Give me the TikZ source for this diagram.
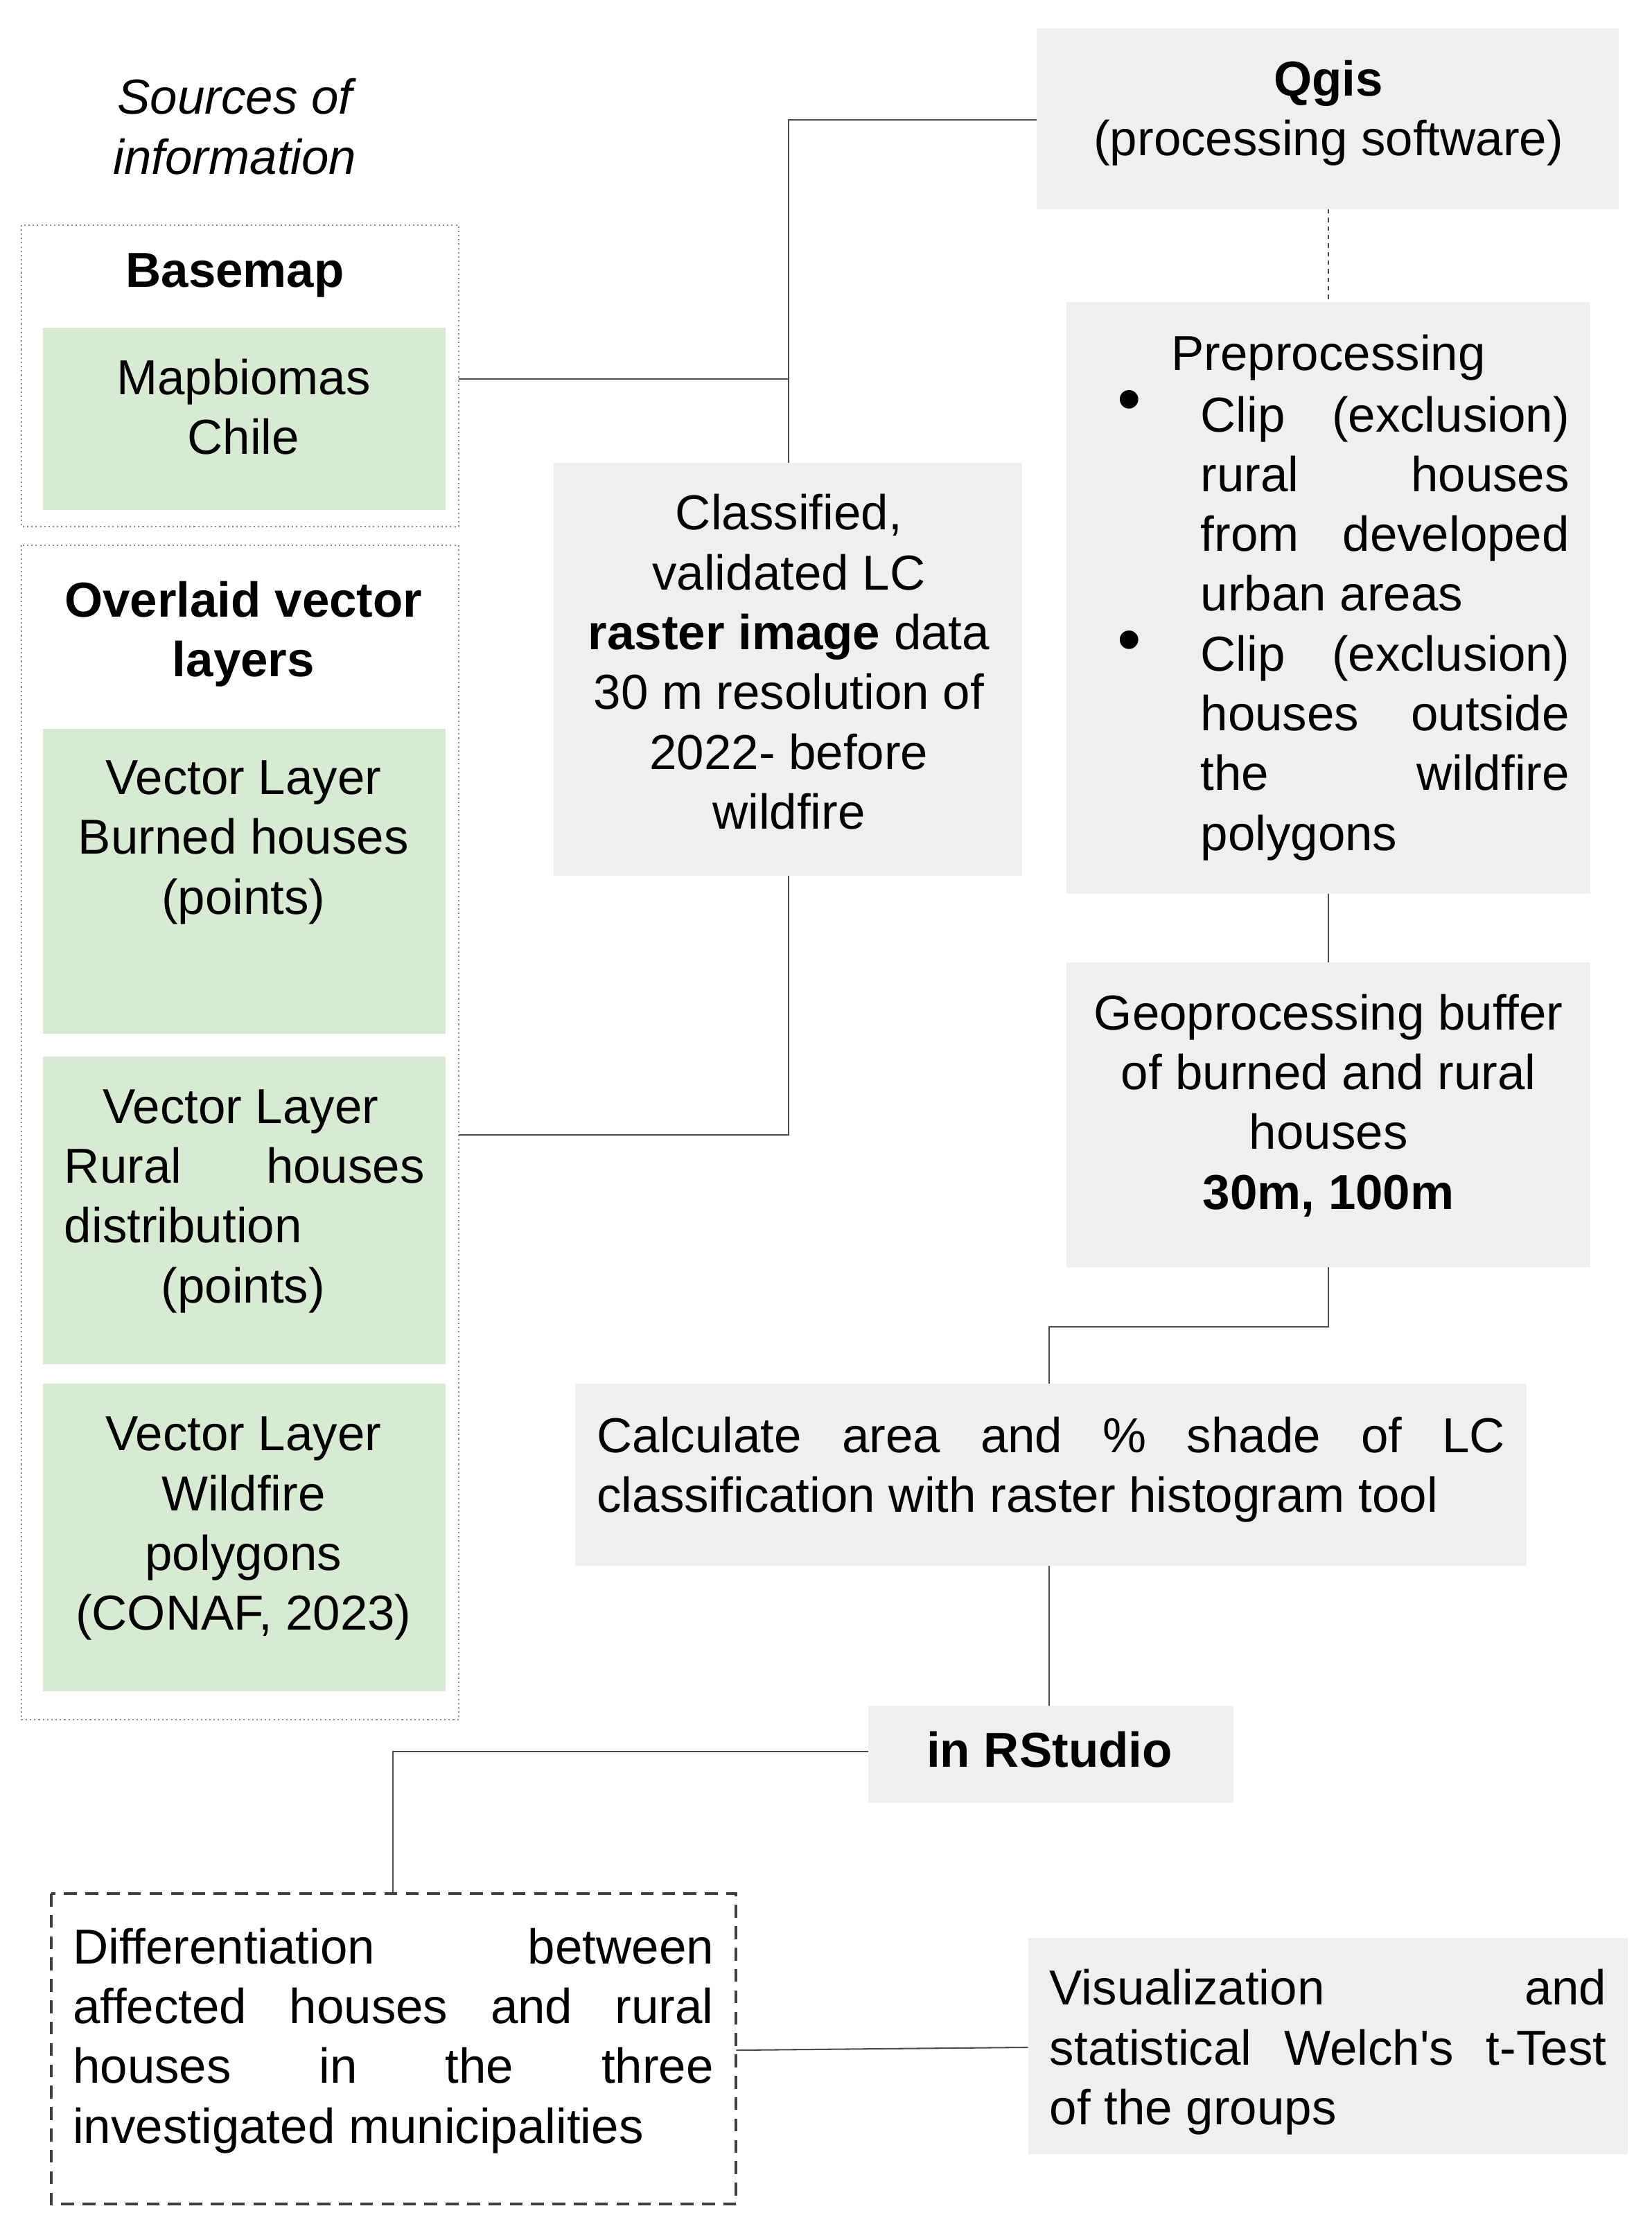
\documentclass[tikz,border=0pt]{standalone}
\usepackage{fontspec}
\setmainfont{Liberation Sans}
\newcommand{\jl}[2]{\makebox[#1pt][s]{#2}}
\begin{document}
\begin{tikzpicture}[x=1pt,y=-1pt,
  txt/.style={inner sep=0pt,anchor=north,align=center,font=\fontsize{34.5}{42}\selectfont},
  dot/.style={draw=black!45,dotted,line width=1pt},
  ln/.style={draw=black!70,line width=1pt}]
\useasboundingbox (0,0) rectangle (1160,1567);
\definecolor{grnc}{HTML}{D9EAD3}
\definecolor{gryc}{HTML}{EFEFEF}
\tikzset{gbox/.style={fill=gryc},grn/.style={fill=grnc}}
% left
\node[txt,font=\fontsize{34.5}{42}\selectfont\itshape] (src) at (165,55) {Sources of\\information};
\draw[dot] (15,158) rectangle (322,370);
\node[txt,font=\fontsize{34.5}{42}\selectfont\bfseries] (bm) at (165,178) {Basemap};
\fill[grn] (30,230) rectangle (313,358);
\node[txt] (mb) at (171,252) {Mapbiomas\\Chile};
\coordinate (mbr) at (322,266);
\draw[dot] (15,383) rectangle (322,1208);
\node[txt,font=\fontsize{34.5}{42}\selectfont\bfseries] (ov) at (171,408) {Overlaid vector\\layers};
\fill[grn] (30,512) rectangle (313,726);
\node[txt] (v1) at (171,534) {Vector Layer\\Burned houses\\(points)};
\fill[grn] (30,742) rectangle (313,958);
\node[txt,align=left,anchor=north west] (v2) at (45,765) {\hspace*{27pt}Vector Layer\\\jl{253}{Rural houses}\\distribution\\\hspace*{68pt}(points)};
\fill[grn] (30,972) rectangle (313,1188);
\node[txt] (v3) at (171,995) {Vector Layer\\Wildfire\\polygons\\(CONAF, 2023)};
\coordinate (v2r) at (322,797);
% middle
\fill[gbox] (389,325) rectangle (718,615);
\node[txt] (cl) at (554,347) {Classified,\\validated LC\\\textbf{raster image} data\\30 m resolution of\\2022- before\\wildfire};
\coordinate (clt) at (554,325); \coordinate (clb) at (554,615);
% qgis
\fill[gbox] (728,20) rectangle (1137,147);
\node[txt] (qg) at (933,42) {\textbf{Qgis}\\(processing software)};
\coordinate (qgl) at (728,84); \coordinate (qgb) at (933,147);
\fill[gbox] (749,212) rectangle (1117,628);
\node[txt] (pp) at (933,235) {Preprocessing};
\node[txt,align=left,anchor=north west] (b1) at (843,278) {\jl{259}{Clip (exclusion)}\\\jl{259}{rural houses}\\\jl{259}{from developed}\\urban areas\\\jl{259}{Clip (exclusion)}\\\jl{259}{houses outside}\\\jl{259}{the wildfire}\\polygons};
\node[txt,font=\fontsize{48}{42}\selectfont] (d1) at (793,274) {\textbullet};
\node[txt,font=\fontsize{48}{42}\selectfont] (d2) at (793,443) {\textbullet};
\coordinate (ppt) at (933,212); \coordinate (ppb) at (933,628);
\fill[gbox] (749,676) rectangle (1117,890);
\node[txt] (geo) at (933,698) {Geoprocessing buffer\\of burned and rural\\houses\\\textbf{30m, 100m}};
\coordinate (geot) at (933,676); \coordinate (geob) at (933,890);
\fill[gbox] (404,972) rectangle (1072,1100);
\node[txt,align=left,anchor=north west] (calc) at (419,995) {\jl{638}{Calculate area and \% shade of LC}\\classification with raster histogram tool};
\coordinate (calt) at (737,972); \coordinate (calb) at (737,1100);
\fill[gbox] (610,1198) rectangle (866,1266);
\node[txt,font=\fontsize{34.5}{42}\selectfont\bfseries] (rs) at (737,1216) {in RStudio};
\coordinate (rst) at (737,1198); \coordinate (rsl) at (610,1230);
\draw[black!75,line width=2pt,dash pattern=on 9pt off 6pt] (36,1330) rectangle (517,1548);
\node[txt,align=left,anchor=north west] (diff) at (51,1354) {\jl{450}{Differentiation between}\\\jl{450}{affected houses and rural}\\\jl{450}{houses in the three}\\investigated municipalities};
\coordinate (dt) at (276,1330); \coordinate (dr) at (517,1440);
\fill[gbox] (722,1361) rectangle (1143,1513);
\node[txt,align=left,anchor=north west] (vis) at (737,1383) {\jl{391}{Visualization and}\\\jl{391}{statistical Welch\textquotesingle s t-Test}\\of the groups};
\coordinate (vl) at (722,1438);
% connectors
\draw[ln] (mbr) -- (554,266);
\draw[ln] (clt) -- (554,84) -- (qgl);
\draw[ln] (clb) -- (554,797) -- (v2r);
\draw[ln,dashed] (qgb) -- (ppt);
\draw[ln] (ppb) -- (geot);
\draw[ln] (geob) -- (933,932) -- (737,932) -- (calt);
\draw[ln] (calb) -- (rst);
\draw[ln] (rsl) -- (276,1230) -- (dt);
\draw[ln] (dr) -- (vl);
\end{tikzpicture}
\end{document}
